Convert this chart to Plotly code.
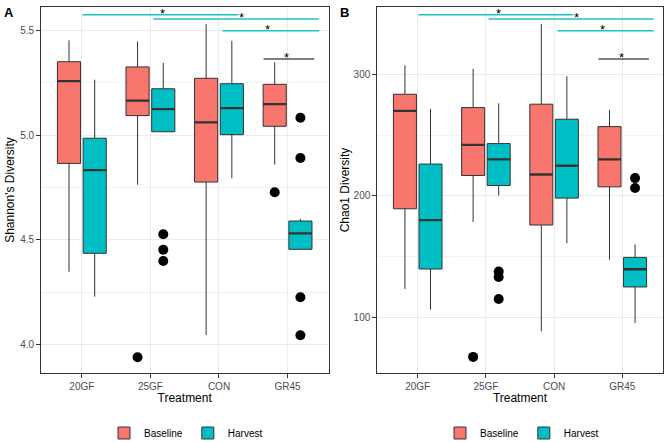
import plotly.graph_objects as go

categories = ["20GF", "25GF", "CON", "GR45"]
groups = ["Baseline", "Harvest"]
colors = {"Baseline": "#F8766D", "Harvest": "#00BFC4"}

# ---- Panel A: Shannon's diversity (box statistics) ----
shannon = {
    "Baseline": dict(
        upper=[5.452, 5.446, 5.530, 5.347],
        q3=[5.350, 5.325, 5.271, 5.242],
        median=[5.257, 5.164, 5.061, 5.148],
        q1=[4.865, 5.093, 4.776, 5.042],
        lower=[4.348, 4.763, 4.046, 4.859],
    ),
    "Harvest": dict(
        upper=[5.264, 5.344, 5.450, 4.600],
        q3=[4.985, 5.221, 5.245, 4.590],
        median=[4.833, 5.124, 5.129, 4.531],
        q1=[4.436, 5.016, 5.002, 4.455],
        lower=[4.229, 5.016, 4.794, 4.455],
    ),
}
shannon_outliers = {
    "Baseline": (["25GF", "GR45"], [3.940, 4.727]),
    "Harvest": (["25GF", "25GF", "25GF", "GR45", "GR45", "GR45", "GR45"],
                [4.527, 4.453, 4.399, 5.083, 4.891, 4.226, 4.045]),
}

# ---- Panel B: Chao1 diversity ----
chao = {
    "Baseline": dict(
        upper=[307.7, 304.7, 341.8, 270.9],
        q3=[283.8, 272.8, 275.6, 257.1],
        median=[270.1, 242.1, 217.6, 230.0],
        q1=[189.3, 216.8, 175.9, 207.4],
        lower=[123.1, 178.4, 88.2, 147.3],
    ),
    "Harvest": dict(
        upper=[271.7, 276.4, 298.7, 159.9],
        q3=[226.2, 243.1, 263.2, 149.2],
        median=[180.0, 230.0, 224.8, 139.4],
        q1=[139.6, 208.5, 198.1, 124.8],
        lower=[106.1, 200.3, 161.0, 95.1],
    ),
}
chao_outliers = {
    "Baseline": (["25GF"], [67.1]),
    "Harvest": (["25GF", "25GF", "25GF", "GR45", "GR45"],
                [137.6, 133.0, 114.9, 214.6, 206.4]),
}

# ---- Significance brackets (x in category units, y in data units) ----
sig_xmin = [1.01, 2.04, 3.05, 3.65]
sig_xmax = [3.28, 4.46, 4.46, 4.39]
sig_star_x = [2.18, 3.33, 3.71, 3.99]
sig_colors = ["#1FC3C7", "#1FC3C7", "#1FC3C7", "#000000"]
sig_y_shannon = [5.574, 5.554, 5.498, 5.363]
sig_y_chao = [349.5, 345.9, 336.3, 312.9]

FONT = "Liberation Sans, Arial, sans-serif"
W, H = 669, 442
DODGE = 0.1875
BOXW = 0.3375

fig = go.Figure()

def add_panel(stats, outliers, xa, ya, legend_name):
    for g in groups:
        off = -DODGE if g == "Baseline" else DODGE
        xs = [i + 1 + off for i in range(len(categories))]
        s = stats[g]
        fig.add_trace(go.Box(
            x=xs, q1=s["q1"], median=s["median"], q3=s["q3"],
            lowerfence=s["lower"], upperfence=s["upper"],
            width=BOXW, whiskerwidth=0, fillcolor=colors[g],
            line=dict(color="#333333", width=1), name=g,
            boxpoints=False, xaxis=xa, yaxis=ya, legend=legend_name,
            showlegend=True, hoverinfo="skip",
        ))
        mx, my = [], []
        for x, m in zip(xs, s["median"]):
            mx += [x - BOXW / 2, x + BOXW / 2, None]
            my += [m, m, None]
        fig.add_trace(go.Scatter(
            x=mx, y=my, mode="lines", line=dict(color="#333333", width=2.3),
            showlegend=False, xaxis=xa, yaxis=ya, hoverinfo="skip",
        ))
        cats, vals = outliers[g]
        ox = [categories.index(c) + 1 + off for c in cats]
        fig.add_trace(go.Scatter(
            x=ox, y=vals, mode="markers",
            marker=dict(color="black", size=10),
            showlegend=False, xaxis=xa, yaxis=ya, hoverinfo="skip",
        ))

add_panel(shannon, shannon_outliers, "x", "y", "legend")
add_panel(chao, chao_outliers, "x2", "y2", "legend2")

# significance brackets
for xa, ya, sy in (("x", "y", sig_y_shannon), ("x2", "y2", sig_y_chao)):
    for x0, x1, yy, c, sx in zip(sig_xmin, sig_xmax, sy, sig_colors, sig_star_x):
        fig.add_trace(go.Scatter(
            x=[x0, x1], y=[yy, yy], mode="lines",
            line=dict(color=c, width=1.5 if c != "#000000" else 1.2),
            showlegend=False, xaxis=xa, yaxis=ya, hoverinfo="skip",
        ))
        fig.add_annotation(
            x=sx, y=yy, xref=xa, yref=ya, text="*", showarrow=False,
            font=dict(family=FONT, size=13, color="black"),
            xanchor="center", yanchor="middle", yshift=1,
        )

def px_x(p):
    return p / W

def px_y(p):
    return 1 - p / H

ydom = [px_y(373), px_y(7)]
common_x = dict(
    range=[0.4, 4.6], tickvals=[1, 2, 3, 4], ticktext=categories,
    showgrid=True, gridcolor="#EBEBEB", gridwidth=1, zeroline=False,
    showline=True, mirror=True, linecolor="#333333", linewidth=1,
    ticks="outside", ticklen=3.5, tickcolor="#333333", tickwidth=1,
    tickfont=dict(family=FONT, size=10, color="#4D4D4D"),
    title=dict(text="Treatment", font=dict(family=FONT, size=12, color="black"),
               standoff=3),
    automargin=False,
)
common_y = dict(
    showgrid=True, gridcolor="#EBEBEB", gridwidth=1, zeroline=False,
    showline=True, mirror=True, linecolor="#333333", linewidth=1,
    ticks="outside", ticklen=3.5, tickcolor="#333333", tickwidth=1,
    tickfont=dict(family=FONT, size=10, color="#4D4D4D"),
    automargin=False, domain=ydom,
)

fig.update_layout(
    width=W, height=H,
    margin=dict(l=0, r=0, t=0, b=0, autoexpand=False),
    paper_bgcolor="white", plot_bgcolor="white",
    font=dict(family=FONT, color="black"),
    boxmode="overlay",
    xaxis=dict(domain=[px_x(40.7), px_x(328.7)], anchor="y", **common_x),
    xaxis2=dict(domain=[px_x(376.8), px_x(663.2)], anchor="y2", **common_x),
    yaxis=dict(anchor="x", range=[3.865, 5.611], tickvals=[4.0, 4.5, 5.0, 5.5],
               ticktext=["4.0", "4.5", "5.0", "5.5"],
               minor=dict(tickvals=[4.25, 4.75, 5.25], showgrid=True,
                          gridcolor="#F2F2F2", gridwidth=0.6, ticks=""),
               title=dict(text="Shannon's Diversity",
                          font=dict(family=FONT, size=12, color="black"), standoff=3),
               **common_y),
    yaxis2=dict(anchor="x2", range=[53.8, 355.8], tickvals=[100, 200, 300],
                minor=dict(tickvals=[150, 250], showgrid=True,
                           gridcolor="#F2F2F2", gridwidth=0.6, ticks=""),
                title=dict(text="Chao1 Diversity",
                           font=dict(family=FONT, size=12, color="black"), standoff=1),
                **common_y),
    legend=dict(orientation="h", x=px_x(186), xanchor="center",
                y=px_y(433), yanchor="middle",
                font=dict(family=FONT, size=10, color="black"),
                bgcolor="rgba(0,0,0,0)", itemwidth=30, tracegroupgap=0),
    legend2=dict(orientation="h", x=px_x(522), xanchor="center",
                 y=px_y(433), yanchor="middle",
                 font=dict(family=FONT, size=10, color="black"),
                 bgcolor="rgba(0,0,0,0)", itemwidth=30, tracegroupgap=0),
)

fig.add_annotation(x=px_x(9), y=px_y(12.5), xref="paper", yref="paper",
                   text="<b>A</b>", showarrow=False, xanchor="center", yanchor="middle",
                   font=dict(family=FONT, size=13, color="black"))
fig.add_annotation(x=px_x(344), y=px_y(12.5), xref="paper", yref="paper",
                   text="<b>B</b>", showarrow=False, xanchor="center", yanchor="middle",
                   font=dict(family=FONT, size=13, color="black"))

fig.write_html("out.html")
